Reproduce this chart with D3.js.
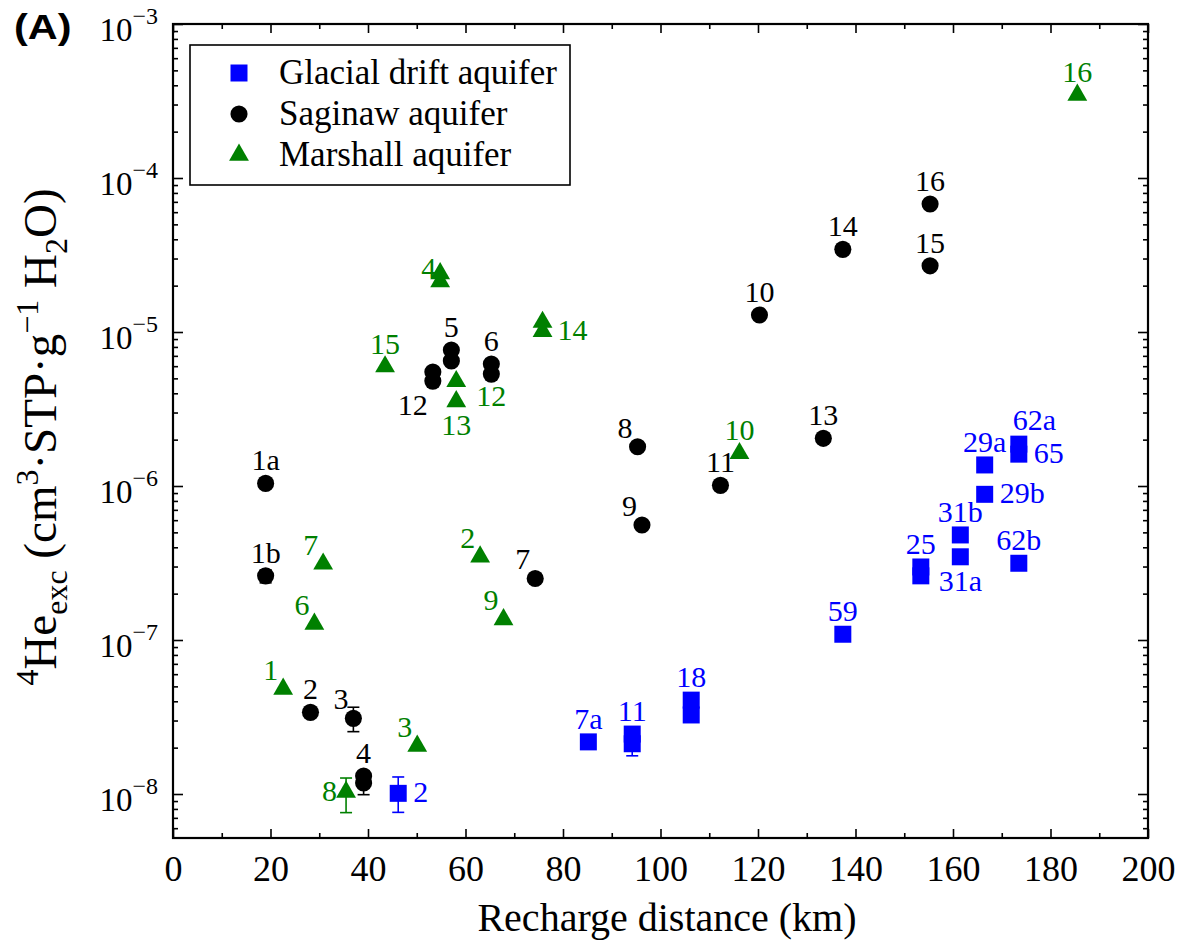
<!DOCTYPE html>
<html lang="en">
<head>
<meta charset="UTF-8">
<title>4He excess vs recharge distance</title>
<script src="https://cdn.jsdelivr.net/npm/d3@7"></script>
<style>
  body { margin: 0; background: #fff; }
  svg text { font-family: "Liberation Serif", "Times New Roman", serif; }
</style>
</head>
<body>
<svg id="chart" width="1183" height="946"></svg>
<script>
// ---- data ----
var glacialX     = [46.2, 85.2, 94.2, 94.2, 106.3, 106.3, 137.4, 153.4, 153.4, 161.5, 161.5, 166.5, 166.5, 173.5, 173.5, 173.5];
var glacialY     = [1.01e-8, 2.18e-8, 2.45e-8, 2.12e-8, 4.07e-8, 3.26e-8, 1.09e-7, 2.98e-7, 2.61e-7, 3.47e-7, 4.81e-7, 1.37e-6, 8.83e-7, 1.87e-6, 1.61e-6, 3.15e-7];
var glacialLabel = ["2", "7a", "11", "", "18", "", "59", "25", "", "31a", "31b", "29a", "29b", "62a", "65", "62b"];
var glacialPlace = ["r", "t", "t", "", "t", "", "t", "t", "", "b", "t", "t", "r", "tr", "r", "t"];
var glacialErrLo = [7.6e-9, null, null, 1.77e-8, null, null, null, null, null, null, null, null, null, null, null, null];
var glacialErrHi = [1.29e-8, null, null, 2.4e-8, null, null, null, null, null, null, null, null, null, null, null, null];

var saginawX     = [19.0, 19.0, 28.2, 37.0, 39.1, 39.1, 57.1, 57.1, 65.3, 65.3, 74.3, 95.3, 96.2, 120.3, 112.3, 53.3, 53.3, 133.4, 137.4, 155.3, 155.3];
var saginawY     = [1.04e-6, 2.61e-7, 3.39e-8, 3.10e-8, 1.31e-8, 1.18e-8, 7.64e-6, 6.49e-6, 6.19e-6, 5.33e-6, 2.51e-7, 1.80e-6, 5.58e-7, 1.29e-5, 1.01e-6, 5.5e-6, 4.8e-6, 2.04e-6, 3.44e-5, 2.69e-5, 6.78e-5];
var saginawLabel = ["1a", "1b", "2", "3", "4", "", "5", "", "6", "", "7", "8", "9", "10", "11", "", "12", "13", "14", "15", "16"];
var saginawPlace = ["t", "t", "t", "tl", "t", "", "t", "", "t", "", "tl", "tl", "tl", "t", "t", "", "bl", "t", "t", "t", "t"];
var saginawErrLo = [null, 2.35e-7, null, 2.54e-8, null, 9.9e-9, null, null, null, null, null, null, null, null, null, null, null, null, null, null, null];
var saginawErrHi = [null, 2.85e-7, null, 3.66e-8, null, 1.3e-8, null, null, null, null, null, null, null, null, null, null, null, null, null, null, null];

var marshallX     = [22.6, 63.0, 50.1, 54.8, 54.8, 29.0, 30.8, 35.5, 67.8, 116.2, 58.1, 58.1, 75.8, 75.8, 43.5, 185.5];
var marshallY     = [4.81e-8, 3.47e-7, 2.05e-8, 2.4e-5, 2.13e-5, 1.27e-7, 3.12e-7, 1.03e-8, 1.36e-7, 1.63e-6, 4.78e-6, 3.54e-6, 1.16e-5, 1.01e-5, 5.96e-6, 3.46e-4];
var marshallLabel = ["1", "2", "3", "4", "", "6", "7", "8", "9", "10", "12", "13", "", "14", "15", "16"];
var marshallPlace = ["tl", "tl", "tl", "ul", "", "tl", "tl", "l", "tl", "t", "br", "b", "", "r", "t", "t"];
var marshallErrLo = [null, null, null, null, null, null, null, 7.57e-9, null, null, null, null, null, null, null, null];
var marshallErrHi = [null, null, null, null, null, null, null, 1.27e-8, null, null, null, null, null, null, null, null];

var seriesNames = ["Glacial drift aquifer", "Saginaw aquifer", "Marshall aquifer"];
var xTicks = [0, 20, 40, 60, 80, 100, 120, 140, 160, 180, 200];
var yTicks = [1e-8, 1e-7, 1e-6, 1e-5, 1e-4, 1e-3];

// ---- layout ----
var plotL = 173, plotR = 1148, plotT = 24, plotB = 838;
var serif = '"Liberation Serif", "Times New Roman", serif';
var svg = d3.select("#chart");

var x = d3.scaleLinear().domain([0, 200]).range([plotL, plotR]);
var y = d3.scaleLog().domain([5.18e-9, 1e-3]).range([plotB, plotT]);

// label placement codes -> offsets
var place = {
  t:  [0, -13, "middle"],
  tl: [-5, -9, "end"],
  tr: [-6, -14, "start"],
  l:  [-9, 9, "end"],
  r:  [15, 9, "start"],
  b:  [0, 34, "middle"],
  bl: [-5, 34, "end"],
  br: [20, 25, "start"],
  ul: [-4, 5, "end"]
};

var minorX = d3.range(10, 200, 20);
var minorY = [];
for (var e = -9; e < -3; e++) {
  for (var m = 2; m <= 9; m++) {
    var v = m * Math.pow(10, e);
    if (v > 5.18e-9 && v < 1e-3) minorY.push(v);
  }
}

function styleAxis(g) {
  g.select(".domain").remove();
  g.selectAll(".tick line").attr("stroke", "#000").attr("stroke-width", 1.6);
}

// bottom
svg.append("g").attr("transform", "translate(0," + plotB + ")")
  .call(d3.axisBottom(x).tickValues(xTicks).tickSizeInner(-9).tickSizeOuter(0).tickPadding(17))
  .call(styleAxis)
  .selectAll("text").attr("font-size", 36).attr("fill", "#000")
  .style("font-family", serif);
svg.append("g").attr("transform", "translate(0," + plotB + ")")
  .call(d3.axisBottom(x).tickValues(minorX).tickSizeInner(-5).tickSizeOuter(0).tickFormat(""))
  .call(styleAxis);
// top
svg.append("g").attr("transform", "translate(0," + plotT + ")")
  .call(d3.axisTop(x).tickValues(xTicks).tickSizeInner(-9).tickSizeOuter(0).tickFormat(""))
  .call(styleAxis);
svg.append("g").attr("transform", "translate(0," + plotT + ")")
  .call(d3.axisTop(x).tickValues(minorX).tickSizeInner(-5).tickSizeOuter(0).tickFormat(""))
  .call(styleAxis);
// left
var yl = svg.append("g").attr("transform", "translate(" + plotL + ",0)")
  .call(d3.axisLeft(y).tickValues(yTicks).tickSizeInner(-10).tickSizeOuter(0).tickPadding(15))
  .call(styleAxis);
yl.selectAll(".tick text").each(function (d) {
  var t = d3.select(this).text(null).attr("dy", null).attr("y", 16)
    .attr("fill", "#000").attr("font-size", 33).style("font-family", serif);
  t.append("tspan").text("10");
  t.append("tspan").attr("dy", -17).attr("font-size", 24).text("\u2212" + (-Math.round(Math.log10(d))));
});
svg.append("g").attr("transform", "translate(" + plotL + ",0)")
  .call(d3.axisLeft(y).tickValues(minorY).tickSizeInner(-5).tickSizeOuter(0).tickFormat(""))
  .call(styleAxis);
// right
svg.append("g").attr("transform", "translate(" + plotR + ",0)")
  .call(d3.axisRight(y).tickValues(yTicks).tickSizeInner(-10).tickSizeOuter(0).tickFormat(""))
  .call(styleAxis);
svg.append("g").attr("transform", "translate(" + plotR + ",0)")
  .call(d3.axisRight(y).tickValues(minorY).tickSizeInner(-5).tickSizeOuter(0).tickFormat(""))
  .call(styleAxis);

// frame
svg.append("rect").attr("x", plotL).attr("y", plotT).attr("width", plotR - plotL).attr("height", plotB - plotT)
  .attr("fill", "none").attr("stroke", "#000").attr("stroke-width", 2.2);

// axis titles
svg.append("text").attr("x", 667).attr("y", 931).attr("text-anchor", "middle")
  .attr("font-size", 40).style("font-family", serif).text("Recharge distance (km)");

var yt = svg.append("text").attr("transform", "translate(56,437) rotate(-90)")
  .attr("text-anchor", "middle").attr("font-size", 47).style("font-family", serif);
yt.append("tspan").attr("dy", -18).attr("font-size", 32).text("4");
yt.append("tspan").attr("dy", 18).text("He");
yt.append("tspan").attr("dy", 11).attr("font-size", 32).text("exc");
yt.append("tspan").attr("dy", -11).text(" (cm");
yt.append("tspan").attr("dy", -18).attr("font-size", 32).text("3");
yt.append("tspan").attr("dy", 18).text("\u00b7STP\u00b7g");
yt.append("tspan").attr("dy", -18).attr("font-size", 32).text("\u22121");
yt.append("tspan").attr("dy", 18).text(" H");
yt.append("tspan").attr("dy", 11).attr("font-size", 32).text("2");
yt.append("tspan").attr("dy", -11).text("O)");

// panel tag
svg.append("text").attr("transform", "translate(14,39) scale(1.15,1)").attr("font-size", 36).attr("font-weight", "bold")
  .style("font-family", '"Liberation Sans", Arial, sans-serif').text("(A)");

// ---- series ----
var series = [
  { name: seriesNames[0], color: "#0000ff", shape: d3.symbolSquare, size: 289,
    xs: glacialX, ys: glacialY, labels: glacialLabel, places: glacialPlace, lo: glacialErrLo, hi: glacialErrHi },
  { name: seriesNames[1], color: "#000000", shape: d3.symbolCircle, size: 230,
    xs: saginawX, ys: saginawY, labels: saginawLabel, places: saginawPlace, lo: saginawErrLo, hi: saginawErrHi },
  { name: seriesNames[2], color: "#008000", shape: d3.symbolTriangle, size: 170,
    xs: marshallX, ys: marshallY, labels: marshallLabel, places: marshallPlace, lo: marshallErrLo, hi: marshallErrHi }
];

var plot = svg.append("g");
series.forEach(function (s) {
  var pts = s.xs.map(function (xv, i) {
    return { x: xv, y: s.ys[i], label: s.labels[i], place: s.places[i], lo: s.lo[i], hi: s.hi[i] };
  });
  var g = plot.append("g");
  var errs = pts.filter(function (p) { return p.lo != null; });
  var eg = g.selectAll("g.err").data(errs).enter().append("g").attr("stroke", s.color).attr("stroke-width", 1.6);
  eg.append("line").attr("x1", function (p) { return x(p.x); }).attr("x2", function (p) { return x(p.x); })
    .attr("y1", function (p) { return y(p.lo); }).attr("y2", function (p) { return y(p.hi); });
  ["lo", "hi"].forEach(function (k) {
    eg.append("line").attr("x1", function (p) { return x(p.x) - 6; }).attr("x2", function (p) { return x(p.x) + 6; })
      .attr("y1", function (p) { return y(p[k]); }).attr("y2", function (p) { return y(p[k]); });
  });
  g.selectAll("path.pt").data(pts).enter().append("path")
    .attr("d", d3.symbol().type(s.shape).size(s.size))
    .attr("transform", function (p) { return "translate(" + x(p.x) + "," + y(p.y) + ")"; })
    .attr("fill", s.color);
  g.selectAll("text.lab").data(pts.filter(function (p) { return p.label; })).enter().append("text")
    .attr("x", function (p) { return x(p.x) + place[p.place][0]; })
    .attr("y", function (p) { return y(p.y) + place[p.place][1]; })
    .attr("text-anchor", function (p) { return place[p.place][2]; })
    .attr("font-size", 30).attr("fill", s.color).style("font-family", serif)
    .text(function (p) { return p.label; });
});

// ---- legend ----
var lg = svg.append("g");
lg.append("rect").attr("x", 190).attr("y", 45).attr("width", 380).attr("height", 140)
  .attr("fill", "#fff").attr("stroke", "#000").attr("stroke-width", 1.6);
series.forEach(function (s, i) {
  var ly = 73 + i * 41;
  lg.append("path").attr("d", d3.symbol().type(s.shape).size(s.size))
    .attr("transform", "translate(239," + ly + ")").attr("fill", s.color);
  lg.append("text").attr("x", 279).attr("y", ly + 11).attr("font-size", 35)
    .style("font-family", serif).text(s.name);
});
</script>
</body>
</html>
